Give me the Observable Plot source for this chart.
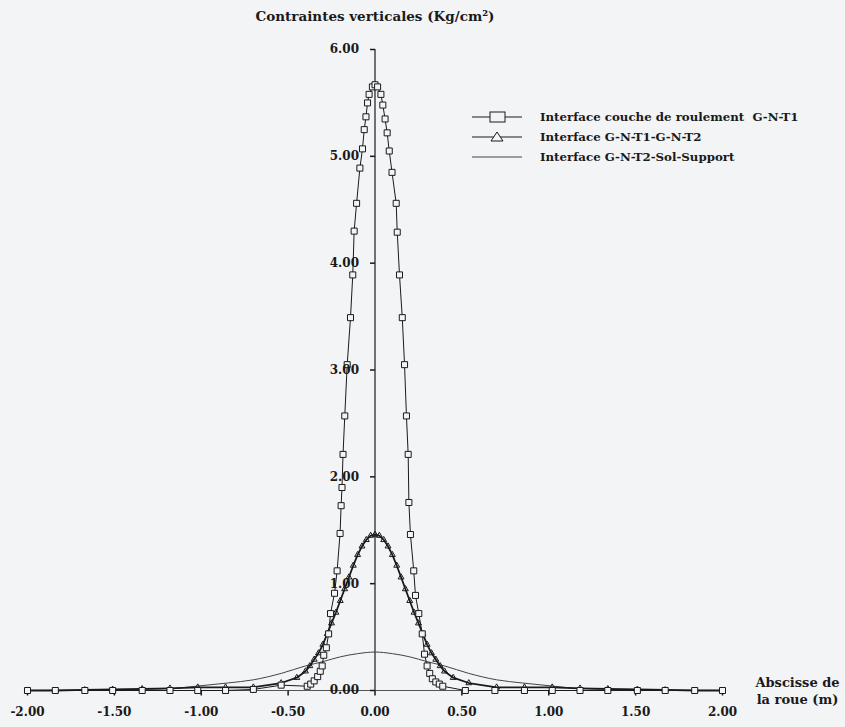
<!DOCTYPE html>
<html><head><meta charset="utf-8">
<script src="https://cdn.jsdelivr.net/npm/d3@7"></script>
<script src="https://cdn.jsdelivr.net/npm/@observablehq/plot@0.6"></script>
<style>
html,body{margin:0;padding:0;background:#f2f4f6;}
</style></head><body><div id="chart"></div>
<script>
// ---- data ----
const xTicks = [-2, -1.5, -1, -0.5, 0, 0.5, 1, 1.5, 2];
const xTickLabels = ["-2.00", "-1.50", "-1.00", "-0.50", "0.00", "0.50", "1.00", "1.50", "2.00"];
const yTicks = [0, 1, 2, 3, 4, 5, 6];
const yTickLabels = ["0.00", "1.00", "2.00", "3.00", "4.00", "5.00", "6.00"];
const yTitle = "Contraintes verticales (Kg/cm²)";
const xTitle = "Abscisse de\nla roue (m)";
const seriesNames = ["Interface couche de roulement  G-N-T1", "Interface G-N-T1-G-N-T2", "Interface G-N-T2-Sol-Support"];

// series 1 : squares
const sqX = [-2.00, -1.84, -1.67, -1.51, -1.34, -1.18, -1.02, -0.86, -0.70, -0.54, -0.39, -0.37, -0.35, -0.33, -0.315,
  -0.304, -0.295, -0.280, -0.267, -0.256, -0.233, -0.218, -0.201, -0.195, -0.190, -0.184, -0.174, -0.160, -0.141,
  -0.128, -0.120, -0.106, -0.087, -0.072, -0.062, -0.052, -0.043, -0.034, -0.015, 0.000, 0.015, 0.034, 0.045,
  0.058, 0.070, 0.082, 0.098, 0.122, 0.128, 0.141, 0.157, 0.170, 0.181, 0.191, 0.195, 0.204, 0.223, 0.233, 0.252,
  0.272, 0.285, 0.300, 0.315, 0.330, 0.350, 0.370, 0.390, 0.52, 0.69, 0.86, 1.02, 1.18, 1.34, 1.51, 1.67, 1.84, 2.00];
const sqY = [0.00, 0.00, 0.00, 0.00, 0.00, 0.00, 0.00, 0.00, 0.01, 0.05, 0.04, 0.06, 0.09, 0.13, 0.18,
  0.23, 0.33, 0.40, 0.53, 0.72, 0.91, 1.12, 1.47, 1.73, 1.90, 2.21, 2.57, 3.05, 3.49,
  3.89, 4.30, 4.56, 4.89, 5.07, 5.25, 5.37, 5.50, 5.58, 5.65, 5.67, 5.65, 5.58, 5.48,
  5.35, 5.22, 5.05, 4.85, 4.56, 4.29, 3.89, 3.49, 3.05, 2.57, 2.21, 1.76, 1.46, 1.12, 0.89, 0.72,
  0.53, 0.34, 0.23, 0.16, 0.11, 0.08, 0.06, 0.04, 0.00, 0.00, 0.00, 0.00, 0.00, 0.00, 0.00, 0.00, 0.00, 0.00];

// series 2 : triangles
const trX = [-2.00, -1.84, -1.67, -1.51, -1.34, -1.18, -1.02, -0.86, -0.70, -0.54, -0.45,
  -0.400, -0.375, -0.350, -0.325, -0.300, -0.275, -0.250, -0.225, -0.200, -0.175, -0.150, -0.125, -0.100, -0.075, -0.050, -0.025,
  0.000, 0.025, 0.050, 0.075, 0.100, 0.125, 0.150, 0.175, 0.200, 0.225, 0.250, 0.275, 0.300, 0.325, 0.350, 0.375, 0.400,
  0.45, 0.54, 0.70, 0.86, 1.02, 1.18, 1.34, 1.51, 1.67, 1.84, 2.00];
const trY = [0.00, 0.00, 0.005, 0.01, 0.015, 0.02, 0.03, 0.03, 0.03, 0.07, 0.12,
  0.18, 0.23, 0.29, 0.35, 0.43, 0.53, 0.63, 0.73, 0.84, 0.95, 1.06, 1.17, 1.27, 1.35, 1.41, 1.45,
  1.46, 1.45, 1.41, 1.35, 1.27, 1.17, 1.06, 0.95, 0.84, 0.73, 0.63, 0.53, 0.43, 0.35, 0.29, 0.23, 0.18,
  0.12, 0.07, 0.03, 0.03, 0.03, 0.02, 0.015, 0.01, 0.005, 0.00, 0.00];

// series 3 : plain line
const slX = [-2.00, -1.60, -1.35, -1.16, -1.03, -0.85, -0.70, -0.54, -0.40, -0.30, -0.20, -0.10, 0.00,
  0.10, 0.20, 0.30, 0.40, 0.54, 0.70, 0.85, 1.03, 1.16, 1.35, 1.60, 2.00];
const slY = [0.00, 0.005, 0.01, 0.02, 0.04, 0.07, 0.10, 0.16, 0.23, 0.27, 0.315, 0.345, 0.36,
  0.345, 0.315, 0.27, 0.23, 0.16, 0.10, 0.07, 0.04, 0.02, 0.01, 0.005, 0.00];

// ---- build ----
const sq = sqX.map((x, i) => ({x, y: sqY[i]}));
const tr = trX.map((x, i) => ({x, y: trY[i]}));
const sl = slX.map((x, i) => ({x, y: slY[i]}));
const yt = yTicks.map((v, i) => ({v, label: yTickLabels[i]}));
const xt = xTicks.map((v, i) => ({v, label: xTickLabels[i]}));

const bg = "#f2f4f6";
const ink = "#1a1a1a";
const font = "'DejaVu Serif', 'Liberation Serif', serif";

const tickLeft = {draw(ctx) { ctx.moveTo(-5, 0); ctx.lineTo(0, 0); }};
const tickDown = {draw(ctx) { ctx.moveTo(0, 0); ctx.lineTo(0, 5); }};

function legend(index, scales, values, dimensions) {
  const g = d3.create("svg:g")
    .attr("font-family", font).attr("font-weight", "bold").attr("font-size", 11.8)
    .attr("fill", ink).attr("text-anchor", "start");
  const rows = [117, 137, 157];
  const x1 = 472, x2 = 522, xt = 540;
  rows.forEach((yy, i) => {
    g.append("line").attr("x1", x1).attr("x2", x2).attr("y1", yy).attr("y2", yy)
      .attr("stroke", i === 2 ? "#444" : ink).attr("stroke-width", 1);
    if (i === 0) {
      g.append("rect").attr("x", 490).attr("y", yy - 5).attr("width", 15).attr("height", 10)
        .attr("fill", bg).attr("stroke", ink).attr("stroke-width", 1);
    } else if (i === 1) {
      g.append("path").attr("d", `M${491},${yy + 4}L${497},${yy - 5}L${503},${yy + 4}Z`)
        .attr("fill", bg).attr("stroke", ink).attr("stroke-width", 1);
    }
    g.append("text").attr("x", xt).attr("y", yy).attr("dy", "0.35em")
      .attr("text-anchor", "start").text(seriesNames[i]);
  });
  return g.node();
}

const chart = Plot.plot({
  width: 845,
  height: 727,
  marginLeft: 27,
  marginRight: 123,
  marginTop: 49,
  marginBottom: 37,
  x: {domain: [-2, 2], axis: null},
  y: {domain: [0, 6], axis: null},
  style: {background: bg, fontFamily: font, color: ink},
  marks: [
    Plot.ruleY([0], {x1: -2, x2: 2, stroke: "#555", strokeWidth: 1}),
    Plot.ruleX([0], {y1: 0, y2: 6, stroke: ink, strokeWidth: 1.2}),
    Plot.dot(yt, {x: 0, y: "v", symbol: tickLeft, stroke: ink, fill: "none"}),
    Plot.dot(xt, {x: "v", y: 0, symbol: tickDown, stroke: ink, fill: "none"}),
    Plot.line(sl, {x: "x", y: "y", stroke: "#444", strokeWidth: 1, curve: "monotone-x"}),
    Plot.line(tr, {x: "x", y: "y", stroke: ink, strokeWidth: 1.8}),
    Plot.dot(tr, {x: "x", y: "y", symbol: "triangle", r: 2.2, stroke: ink, fill: "none", strokeWidth: 1}),
    Plot.line(sq, {x: "x", y: "y", stroke: ink, strokeWidth: 1}),
    Plot.dot(sq, {x: "x", y: "y", symbol: "square", r: 3.4, stroke: ink, fill: bg, strokeWidth: 1}),
    Plot.text(yt, {x: 0, y: "v", text: "label", dx: -16, textAnchor: "end", fontSize: 12, fontWeight: "bold", fill: ink}),
    Plot.text(xt, {x: "v", y: 0, text: "label", dy: 22, textAnchor: "middle", fontSize: 12, fontWeight: "bold", fill: ink}),
    Plot.text([yTitle], {x: 0, y: 6, dy: -33, text: d => d, textAnchor: "middle", fontSize: 13.5, fontWeight: "bold", fill: ink}),
    Plot.text([xTitle], {x: 2, y: 0, dx: 75, text: d => d, textAnchor: "middle", lineAnchor: "middle", lineHeight: 1.3, fontSize: 13, fontWeight: "bold", fill: ink}),
    legend
  ]
});
document.getElementById("chart").appendChild(chart);
</script>
</body></html>
